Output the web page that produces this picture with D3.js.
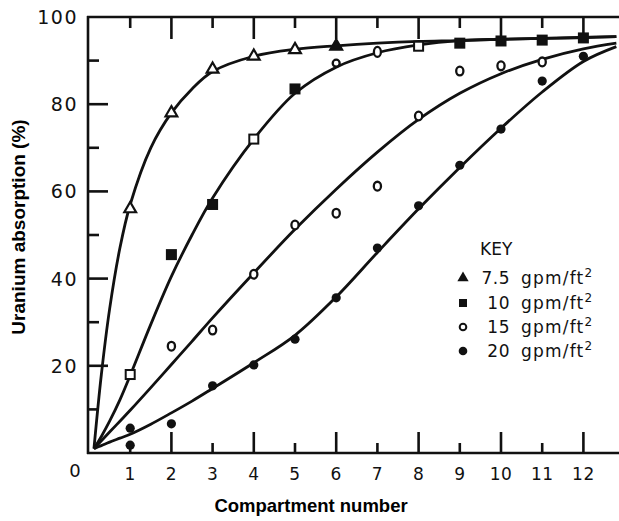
<!DOCTYPE html>
<html>
<head>
<meta charset="utf-8">
<script src="https://cdn.jsdelivr.net/npm/d3@7"></script>
<style>
  html, body { margin: 0; padding: 0; background: #fff; }
  svg { display: block; }
</style>
</head>
<body>
<svg id="chart" width="619" height="521"></svg>
<script>
// ---------------- DATA ----------------
const compartments = [1, 2, 3, 4, 5, 6, 7, 8, 9, 10, 11, 12];
const rateLabels = ["7.5", "10", "15", "20"];
const rateUnit = "gpm/ft";
const yMajorTicks = [20, 40, 60, 80, 100];
const yMinorTicks = [10, 30, 50, 70, 90];
const xTitle = "Compartment number";
const yTitle = "Uranium absorption (%)";
const legendTitle = "KEY";

// measured points (null = no point)
const rate75 = [56, 78, 88, 91, 92.5, 93.3, null, null, null, null, null, null];
const rate10 = [18, 45.5, 57, 72, 83.5, 89.4, 92, 93.3, 94, 94.5, 94.7, 95.2];
const rate15 = [null, 24.5, 28.2, 41, 52.3, 55, 61.2, 77.3, 87.6, 88.8, 89.7, null];
const rate20 = [5.7, 6.7, 15.4, 20.2, 26.1, 35.6, 47, 56.7, 66, 74.3, 85.3, 91];
const rate20ExtraX = [1];
const rate20ExtraY = [1.8];

// fitted curves
const fitX  = [0.12, 0.3, 0.5, 0.75, 1, 1.5, 2, 2.5, 3, 4, 5, 6, 7, 8, 9, 10, 11, 12, 12.8];
const fit75 = [1, 18, 33, 47, 57, 70, 78, 83.5, 87.5, 91, 92.6, 93.4, 94, 94.4, 94.6, 94.9, 95.1, 95.3, 95.5];
const fit10 = [1, 3.8, 7.3, 12.2, 17.8, 29.5, 40.5, 50, 58.5, 72, 82.5, 88.5, 91.8, 93.6, 94.6, 94.9, 95.1, 95.3, 95.5];
const fit15 = [1, 2.8, 4.8, 7.3, 9.8, 15, 20.3, 25.6, 31, 41.3, 51.3, 60.5, 69, 76.5, 82.5, 87, 90.3, 92.7, 94];
const fit20 = [1, 1.7, 2.5, 3.4, 4.3, 6.6, 9.2, 11.9, 14.8, 20.7, 27, 35.8, 46, 56, 65.5, 74.5, 82.8, 89.8, 93.2];

// ---------------- DRAW ----------------
const svg = d3.select("#chart");
const ink = "#111";
const x = d3.scaleLinear().domain([0, 12]).range([89, 583.4]);
const y = d3.scaleLinear().domain([0, 100]).range([453, 17]);
const axisX = 88, rightEdge = 619;

svg.append("rect").attr("width", 619).attr("height", 521).attr("fill", "#fff");

// axes frame
const frame = svg.append("g").attr("stroke", ink).attr("stroke-width", 2.6).attr("fill", "none");
frame.append("line").attr("x1", axisX).attr("x2", axisX).attr("y1", y(0) + 1).attr("y2", y(100) - 1);
frame.append("line").attr("x1", axisX - 1).attr("x2", rightEdge).attr("y1", y(0)).attr("y2", y(0));
frame.append("line").attr("x1", axisX - 1).attr("x2", rightEdge).attr("y1", y(100)).attr("y2", y(100));

// y ticks (inward)
frame.selectAll(".ymaj").data(yMajorTicks.filter(d => d < 100)).join("line")
  .attr("x1", axisX).attr("x2", axisX + 20).attr("y1", d => y(d)).attr("y2", d => y(d));
frame.selectAll(".ymin").data(yMinorTicks).join("line")
  .attr("x1", axisX).attr("x2", axisX + 11).attr("y1", d => y(d)).attr("y2", d => y(d));

// x ticks bottom (up) and top (down)
frame.selectAll(".xb").data(compartments).join("line")
  .attr("x1", d => x(d)).attr("x2", d => x(d))
  .attr("y1", y(0)).attr("y2", d => y(0) - (d % 2 === 0 ? 21 : 10));
frame.selectAll(".xt").data(compartments).join("line")
  .attr("x1", d => x(d)).attr("x2", d => x(d))
  .attr("y1", y(100)).attr("y2", d => y(100) + (d % 2 === 0 ? 22 : 11));

// tick labels
const tickFont = "'DejaVu Sans', sans-serif";
svg.append("g").selectAll("text").data(yMajorTicks).join("text")
  .attr("x", 78).attr("y", d => y(d) + 7)
  .attr("text-anchor", "end")
  .attr("font-family", tickFont).attr("font-size", 19).attr("letter-spacing", 1.5)
  .attr("fill", ink).text(d => d);
svg.append("text").attr("x", 75).attr("y", 477).attr("text-anchor", "middle")
  .attr("font-family", tickFont).attr("font-size", 18).attr("fill", ink).text(0);
svg.append("g").selectAll("text").data(compartments).join("text")
  .attr("x", d => x(d)).attr("y", 480)
  .attr("text-anchor", "middle")
  .attr("font-family", tickFont).attr("font-size", 17).attr("letter-spacing", 0.5)
  .attr("fill", ink).text(d => d);

// axis titles
svg.append("text").attr("transform", "translate(25,227) rotate(-90)")
  .attr("text-anchor", "middle").attr("font-family", "'Liberation Sans', Arial, sans-serif")
  .attr("font-weight", "bold").attr("font-size", 19).attr("fill", "#000").text(yTitle);
svg.append("text").attr("x", 311).attr("y", 512)
  .attr("text-anchor", "middle").attr("font-family", "'Liberation Sans', Arial, sans-serif")
  .attr("font-weight", "bold").attr("font-size", 18.5).attr("fill", "#000").text(xTitle);

// fitted curves
const line = d3.line().x(d => x(d[0])).y(d => y(d[1])).curve(d3.curveCatmullRom.alpha(0.5));
[fit75, fit10, fit15, fit20].forEach(arr => {
  svg.append("path").datum(fitX.map((v, i) => [v, arr[i]]))
    .attr("d", line).attr("fill", "none").attr("stroke", ink).attr("stroke-width", 2.8)
    .attr("stroke-linejoin", "round");
});

// markers
const pts = arr => compartments.map((c, i) => [c, arr[i]]).filter(d => d[1] != null);
const tri = d3.symbol().type(d3.symbolTriangle).size(60);
svg.append("g").selectAll("path").data(pts(rate75)).join("path")
  .attr("transform", d => `translate(${x(d[0])},${y(d[1])})`)
  .attr("d", tri).attr("fill", (d, i) => i === 5 ? ink : "#fff").attr("stroke", ink).attr("stroke-width", 2.2);

const openTen = new Set([1, 4, 8]);
const ovalTen = new Set([6, 7]);
const tenPts = pts(rate10);
svg.append("g").selectAll("rect").data(tenPts.filter(d => !ovalTen.has(d[0]))).join("rect")
  .attr("x", d => x(d[0]) - 4.5).attr("y", d => y(d[1]) - 4.5)
  .attr("width", 9).attr("height", 9)
  .attr("fill", d => openTen.has(d[0]) ? "#fff" : ink).attr("stroke", ink).attr("stroke-width", 2);
svg.append("g").selectAll("ellipse").data(tenPts.filter(d => ovalTen.has(d[0]))).join("ellipse")
  .attr("cx", d => x(d[0])).attr("cy", d => y(d[1]))
  .attr("rx", 3.5).attr("ry", d => d[0] === 7 ? 5 : 3.5)
  .attr("fill", "#fff").attr("stroke", ink).attr("stroke-width", 2.3);

svg.append("g").selectAll("ellipse").data(pts(rate15)).join("ellipse")
  .attr("cx", d => x(d[0])).attr("cy", d => y(d[1]))
  .attr("rx", 3.6).attr("ry", 4.4)
  .attr("fill", "#fff").attr("stroke", ink).attr("stroke-width", 2.3);

svg.append("g").selectAll("circle").data(pts(rate20).concat(rate20ExtraX.map((v, i) => [v, rate20ExtraY[i]]))).join("circle")
  .attr("cx", d => x(d[0])).attr("cy", d => y(d[1])).attr("r", 4.6).attr("fill", ink);

// legend
const lg = svg.append("g").attr("font-family", tickFont).attr("fill", ink);
lg.append("text").attr("x", 480).attr("y", 255).attr("font-size", 17).text(legendTitle);
const rowY = [278, 303, 327, 351];
rateLabels.forEach((lab, i) => {
  const cy = rowY[i];
  lg.append("text").attr("x", 510).attr("y", cy + 6).attr("text-anchor", "end")
    .attr("font-size", 17).attr("letter-spacing", 0.5).text(lab);
  const t = lg.append("text").attr("x", 521).attr("y", cy + 6).attr("font-size", 17).attr("letter-spacing", 1.2);
  t.append("tspan").text(rateUnit);
  t.append("tspan").attr("dy", -7).attr("font-size", 12).attr("letter-spacing", 0).text("2");
});
const sx = 463;
lg.append("path").attr("transform", `translate(${sx},${rowY[0]})`).attr("d", d3.symbol().type(d3.symbolTriangle).size(55)).attr("fill", ink);
lg.append("rect").attr("x", sx - 4).attr("y", rowY[1] - 4).attr("width", 8).attr("height", 8).attr("fill", ink);
lg.append("circle").attr("cx", sx).attr("cy", rowY[2]).attr("r", 3.3).attr("fill", "#fff").attr("stroke", ink).attr("stroke-width", 2);
lg.append("circle").attr("cx", sx).attr("cy", rowY[3]).attr("r", 4.3).attr("fill", ink);
</script>
</body>
</html>
